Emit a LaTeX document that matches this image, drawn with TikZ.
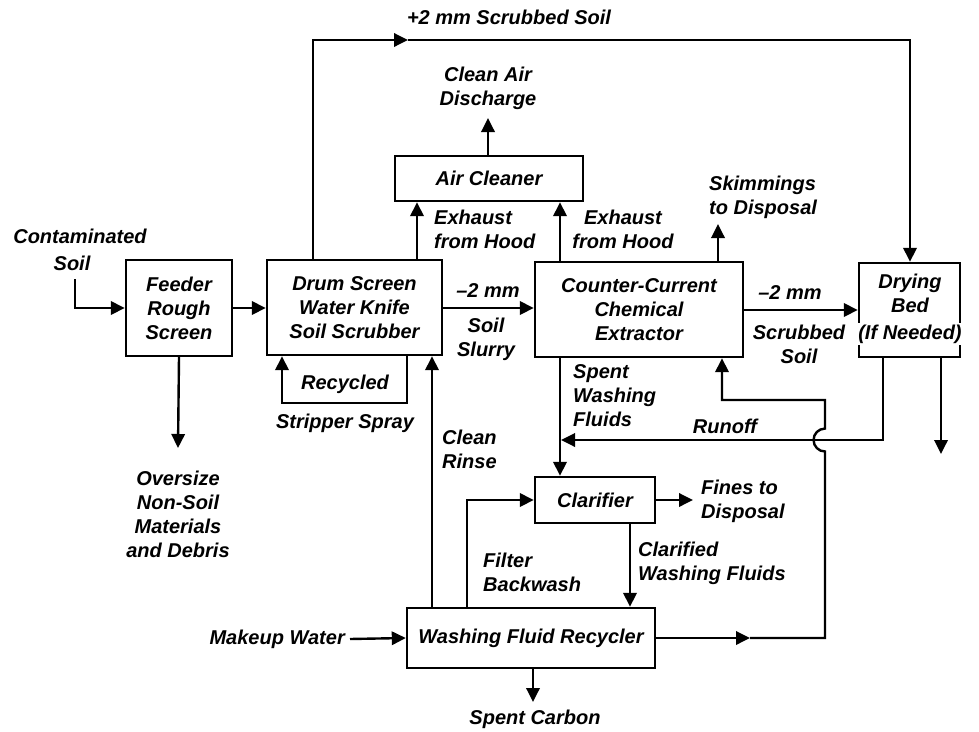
\documentclass[tikz,border=0pt]{standalone}
\usepackage{fontspec}
\setmainfont{Liberation Sans}
\usetikzlibrary{arrows.meta}
\begin{document}
\begin{tikzpicture}[x=0.75pt,y=-0.75pt,
  line width=1.8pt,
  every node/.style={font=\fontsize{15}{18}\selectfont\bfseries\itshape},
  box/.style={draw, line width=1.8pt, inner sep=0pt, align=center},
  lbl/.style={align=center, inner sep=0pt},
  lbll/.style={align=left, inner sep=0pt, anchor=west},
  arr/.style={-{Triangle[length=10.5pt,width=10pt]}}]
\useasboundingbox (0,0) rectangle (979,732);
% x positions of vertical lines
\coordinate (xa) at (313,0);
\coordinate (xb) at (417,0);
\coordinate (xc) at (560,0);
\coordinate (xd) at (488,0);
\coordinate (xe) at (718,0);
\coordinate (xf) at (910,0);
\coordinate (xg) at (941,0);
\coordinate (xh) at (883,0);
\coordinate (xi) at (825,0);
\coordinate (xj) at (722,0);
\coordinate (xk) at (282,0);
\coordinate (xl) at (407,0);
\coordinate (xm) at (432,0);
\coordinate (xn) at (467,0);
\coordinate (xo) at (630,0);
\coordinate (xp) at (533,0);
% boxes
\node[box, minimum width=79.5pt, minimum height=72pt] (feeder) at (179,308) {Feeder\\Rough\\Screen};
\node[box, minimum width=131.25pt, minimum height=71.25pt] (drum) at (354.5,307.5) {Drum Screen\\Water Knife\\Soil Scrubber};
\node[box, minimum width=141pt, minimum height=33.75pt] (air) at (489,178.5) {Air Cleaner};
\node[box, minimum width=156pt, minimum height=71.25pt] (cce) at (639,309.5) {Counter-Current\\Chemical\\Extractor};
\node[box, minimum width=75.75pt, minimum height=70.5pt] (dry) at (909.5,310) {};
\node[lbl] (dryt) at (910,293) {Drying\\Bed};
\node[lbl, fill=white, inner sep=1.5pt] (dryn) at (910,334) {(If Needed)};
\node[box, minimum width=90pt, minimum height=34.5pt] (clar) at (595,500) {Clarifier};
\node[box, minimum width=186pt, minimum height=45pt] (wfr) at (531,638) {Washing Fluid Recycler};
% labels
\node[lbl] (top) at (509,17) {+2 mm Scrubbed Soil};
\node[lbl] (cad) at (488,88) {Clean Air\\Discharge};
\node[lbll] (ex1) at (433,229) {Exhaust\\from Hood};
\node[lbl] (ex2) at (623,229) {Exhaust\\from Hood};
\node[lbll] (skim) at (708,197) {Skimmings\\to Disposal};
\node[lbl] (cont) at (80,236) {Contaminated};
\node[lbl] (soil) at (72,263) {Soil};
\node[lbl] (m1) at (488,291) {–2 mm};
\node[lbl] (ss) at (486,339) {Soil\\Slurry};
\node[lbl] (m2) at (790,293) {–2 mm};
\node[lbl] (scs) at (799,344) {Scrubbed\\Soil};
\node[lbl] (rec) at (345,384) {Recycled};
\node[lbl] (strip) at (345,423) {Stripper Spray};
\node[lbll] (rinse) at (441,449) {Clean\\Rinse};
\node[lbll] (swf) at (572,396) {Spent\\Washing\\Fluids};
\node[lbl] (runoff) at (725,426) {Runoff};
\node[lbl] (over) at (178,514) {Oversize\\Non-Soil\\Materials\\and Debris};
\node[lbll] (fines) at (700,501) {Fines to\\Disposal};
\node[lbll] (clfl) at (637,563) {Clarified\\Washing Fluids};
\node[lbll] (fb) at (482,572) {Filter\\Backwash};
\node[lbl, anchor=east] (mw) at (346,639) {Makeup Water};
\node[lbl] (sc) at (535,719) {Spent Carbon};
% connectors
\coordinate (csin) at (75,279);
\draw[arr] (csin) |- (feeder.west);
\draw[arr] (feeder.east) -- (drum.west |- feeder.east);
\coordinate (ovt) at (178,448);
\draw[arr] (feeder.south) -- (ovt);
\coordinate (tm) at (408,40);
\draw[arr] (drum.north -| xa) |- (tm);
\draw[arr] (tm) -| (dry.north -| xf);
\draw[arr] (drum.north -| xb) -- (air.south -| xb);
\draw[arr] (cce.north -| xc) -- (air.south -| xc);
\coordinate (cat) at (488,118);
\draw[arr] (air.north -| xd) -- (cat);
\coordinate (skt) at (718,224);
\draw[arr] (cce.north -| xe) -- (skt);
\draw[arr] (drum.east |- 0,308) -- (cce.west |- 0,308);
\draw[arr] (cce.east |- 0,310) -- (dry.west |- 0,310);
\coordinate (dd) at (941,454);
\draw[arr] (dry.south -| xg) -- (dd);
\coordinate (ro) at (561,440);
\draw[arr] (dry.south -| xh) |- (ro);
\draw[arr] (cce.south -| xc) -- (clar.north -| xc);
\coordinate (rm) at (750,638);
\draw[arr] (wfr.east) -- (rm);
\draw[arr] (rm) -- (825,638) -- (825,451.5) arc[start angle=270, end angle=90, radius=8.6pt] -- (825,400) -- (722,400) -- (cce.south -| xj);
\draw[arr] (clar.east) -- (693,500);
\draw[arr] (clar.south -| xo) -- (wfr.north -| xo);
\draw[arr] (wfr.north -| xn) |- (clar.west);
\draw[arr] (wfr.north -| xm) -- (drum.south -| xm);
\draw[arr] (drum.south -| xl) -- (407,403) -- (282,403) -- (drum.south -| xk);
\draw[arr] ([xshift=3pt]mw.east) -- (wfr.west);
\coordinate (sct) at (533,702);
\draw[arr] (wfr.south -| xp) -- (sct);
\end{tikzpicture}
\end{document}
